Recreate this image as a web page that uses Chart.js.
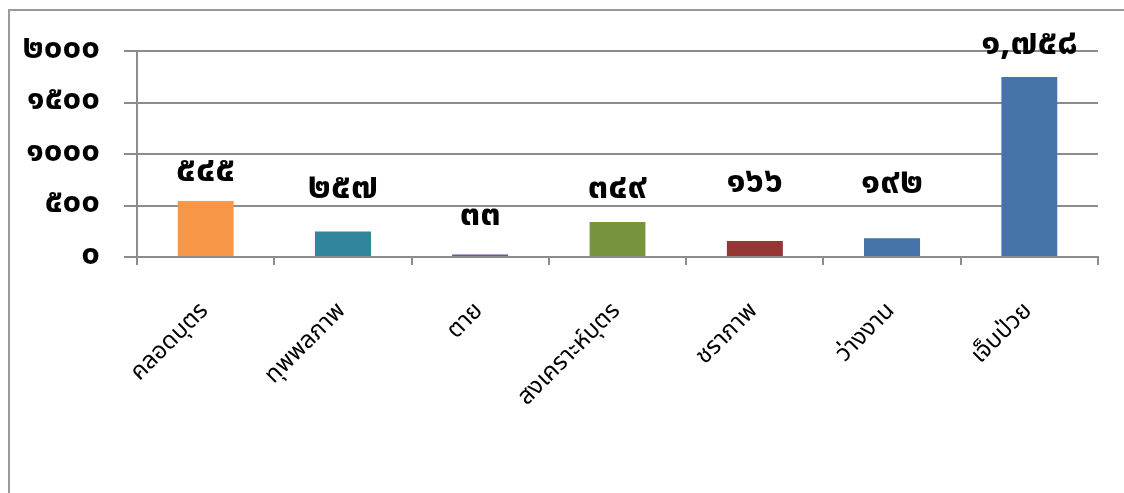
<!DOCTYPE html>
<html>
<head>
<meta charset="utf-8">
<script src="https://cdn.jsdelivr.net/npm/chart.js@4.4.0/dist/chart.umd.min.js"></script>
<style>
  html, body { margin: 0; padding: 0; background: #fff; overflow: hidden; }
  #frame {
    position: absolute; left: 8px; top: 9px; width: 1300px; height: 700px;
    border-left: 2px solid #9a9a9a; border-top: 2px solid #9a9a9a;
  }
  #chart { position: absolute; left: 0; top: 0; }
</style>
</head>
<body>
<div id="frame"></div>
<canvas id="chart" width="1124" height="493"></canvas>
<script>
// categories and values
const categories = ['คลอดบุตร', 'ทุพพลภาพ', 'ตาย', 'สงเคราะห์บุตร', 'ชราภาพ', 'ว่างงาน', 'เจ็บป่วย'];
const values = [545, 257, 33, 349, 166, 192, 1758];
const barColors = ['#f79646', '#31859c', '#6f5592', '#77933c', '#953735', '#4673aa', '#4673aa'];
const yTicks = [0, 500, 1000, 1500, 2000];

const thaiDigits = ['๐', '๑', '๒', '๓', '๔', '๕', '๖', '๗', '๘', '๙'];
function toThai(str) {
    return String(str).replace(/[0-9]/g, d => thaiDigits[+d]);
}

const FONT = "'Noto Sans Thai', 'Noto Sans', 'DejaVu Sans', sans-serif";

// value labels above bars
const valueLabels = {
    id: 'valueLabels',
    afterDatasetsDraw(chart, args, opts) {
        const ctx = chart.ctx;
        const meta = chart.getDatasetMeta(0);
        ctx.save();
        ctx.font = 'bold 36px ' + FONT;
        ctx.fillStyle = '#000';
        ctx.textAlign = 'center';
        ctx.textBaseline = 'middle';
        meta.data.forEach((bar, i) => {
            const v = values[i];
            const txt = toThai(v >= 1000 ? v.toLocaleString('en-US') : v);
            ctx.fillText(txt, bar.x, bar.y - opts.lift[i]);
        });
        ctx.restore();
    }
};

new Chart(document.getElementById('chart'), {
    type: 'bar',
    data: {
        labels: categories,
        datasets: [{
            data: values,
            backgroundColor: barColors,
            borderColor: ['#7fb04a', 'transparent', 'transparent', 'transparent', 'transparent', 'transparent', 'transparent'],
            borderWidth: { top: 1, left: 0, right: 0, bottom: 0 },
            borderSkipped: 'bottom',
            barPercentage: 0.41,
            categoryPercentage: 1
        }]
    },
    options: {
        responsive: false,
        animation: false,
        layout: { padding: { top: 51, right: 26, left: 0, bottom: 0 } },
        plugins: {
            legend: { display: false },
            tooltip: { enabled: false },
            valueLabels: { lift: [27, 40, 36, 30, 55, 52, 29] }
        },
        scales: {
            x: {
                afterFit(scale) { scale.height = 236; },
                grid: {
                    drawOnChartArea: false,
                    offset: true,
                    color: '#8c8c8c',
                    lineWidth: 2,
                    tickLength: 8
                },
                border: { color: '#8c8c8c', width: 2 },
                ticks: {
                    minRotation: 45,
                    maxRotation: 45,
                    padding: 33,
                    color: '#000',
                    font: { family: FONT, size: 24 }
                }
            },
            y: {
                min: 0,
                max: 2000,
                afterFit(scale) { scale.width = 137; },
                afterBuildTicks(scale) { scale.ticks = yTicks.map(v => ({ value: v })); },
                grid: {
                    color: '#8c8c8c',
                    lineWidth: 2,
                    tickLength: 13
                },
                border: { color: '#8c8c8c', width: 2 },
                ticks: {
                    padding: 24,
                    color: '#000',
                    font: { family: FONT, size: 33, weight: 'bold' },
                    callback: v => toThai(v)
                }
            }
        }
    },
    plugins: [valueLabels]
});
</script>
</body>
</html>
